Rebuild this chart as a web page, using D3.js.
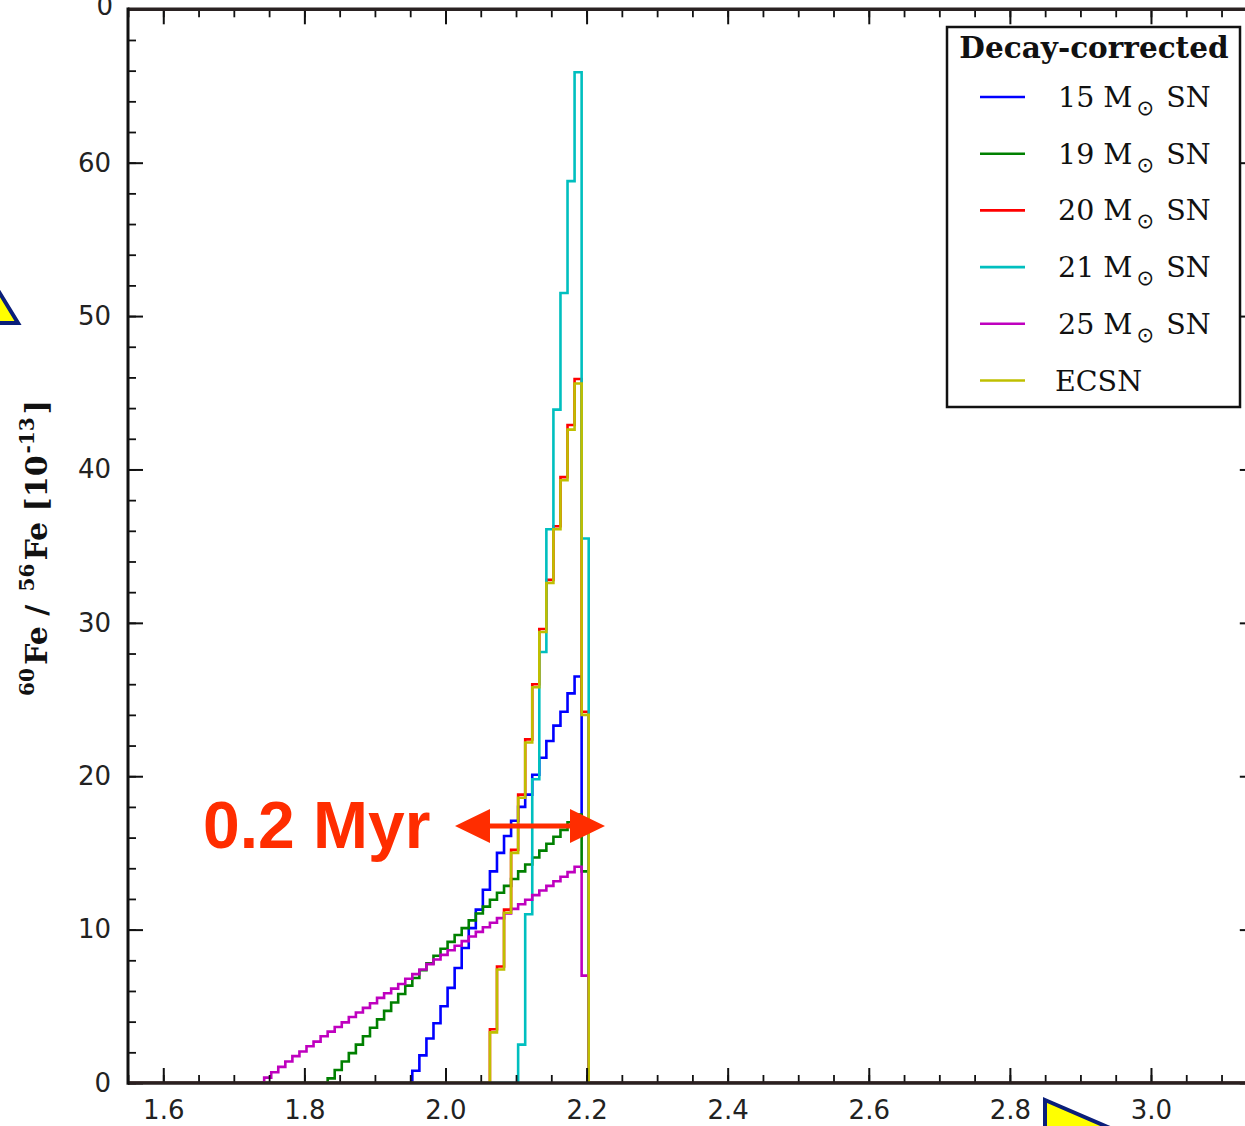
<!DOCTYPE html>
<html><head><meta charset="utf-8">
<script src="https://cdn.jsdelivr.net/npm/d3@7"></script>
<style>body{margin:0;background:#fff;} svg{display:block;}</style>
</head><body>
<svg id="chart" width="1245" height="1126"></svg>
<script>
// ---------------- data ----------------
const xMajorTicks = [1.6, 1.8, 2.0, 2.2, 2.4, 2.6, 2.8, 3.0];
const yMajorTicks = [0, 10, 20, 30, 40, 50, 60];
const binWidth = 0.01;
const seriesMass = ["15", "19", "20", "21", "25", "ECSN"];

const start15 = 1.953;
const values15 = [0.8, 1.8, 2.9, 3.9, 5.0, 6.2, 7.5, 8.8, 10.1, 11.3, 12.6, 13.8, 15.0, 16.1, 17.1, 18.0,
  18.8, 20.1, 21.2, 22.3, 23.3, 24.2, 25.4, 26.5, 17.2];
const start19 = 1.833;
const values19 = [0.3, 0.85, 1.4, 1.95, 2.5, 3.05, 3.6, 4.15, 4.7, 5.25, 5.8, 6.35, 6.85, 7.35, 7.8, 8.3,
  8.75, 9.2, 9.65, 10.1, 10.6, 11.05, 11.5, 11.95, 12.4, 12.85, 13.3, 13.8, 14.25, 14.7, 15.15, 15.6,
  16.05, 16.5, 17.0, 17.5, 13.8];
const start20 = 2.063;
const values20 = [3.5, 7.6, 11.3, 15.2, 18.8, 22.4, 26.0, 29.6, 32.8, 36.3, 39.5, 42.9, 45.9, 24.2];
const start21 = 2.103;
const values21 = [2.5, 11.0, 19.8, 28.1, 36.1, 43.9, 51.5, 58.8, 65.9, 35.5];
const start25 = 1.743;
const values25 = [0.35, 0.7, 1.05, 1.4, 1.75, 2.05, 2.4, 2.7, 3.05, 3.35, 3.65, 3.95, 4.3, 4.6, 4.9, 5.2,
  5.55, 5.85, 6.15, 6.45, 6.8, 7.1, 7.4, 7.75, 8.05, 8.35, 8.65, 8.95, 9.25, 9.55, 9.85, 10.15, 10.45,
  10.75, 11.05, 11.35, 11.65, 11.95, 12.25, 12.55, 12.85, 13.15, 13.45, 13.75, 14.1, 7.0];
const startECSN = 2.063;
const valuesECSN = [3.3, 7.4, 11.1, 15.0, 18.6, 22.2, 25.8, 29.4, 32.6, 36.1, 39.3, 42.6, 45.6, 24.0];

const seriesStarts = [start15, start19, start20, start21, start25, startECSN];
const seriesValues = [values15, values19, values20, values21, values25, valuesECSN];
const seriesColors = ["#0000ff", "#008000", "#ff0000", "#00bfbf", "#bf00bf", "#bfbf00"];

// ---------------- chart ----------------
const svg = d3.select("#chart");
const xDomain = [1.55, 3.15], yDomain = [0, 70];
const pLeft = 128, pRight = 1256.8, pBottom = 1083, pTop = 9.3;
const x = d3.scaleLinear().domain(xDomain).range([pLeft, pRight]);
const y = d3.scaleLinear().domain(yDomain).range([pBottom, pTop]);

svg.append("defs").append("clipPath").attr("id", "plotclip")
  .append("rect").attr("x", pLeft).attr("y", pTop).attr("width", pRight - pLeft).attr("height", pBottom - pTop);

// histogram step lines
const line = d3.line().x(d => x(d[0])).y(d => y(d[1])).curve(d3.curveStepAfter);
const plot = svg.append("g").attr("clip-path", "url(#plotclip)");
seriesValues.forEach((vals, i) => {
  const s = seriesStarts[i];
  const pts = [[xDomain[0], 0]];
  vals.forEach((v, k) => pts.push([s + k * binWidth, v]));
  pts.push([s + vals.length * binWidth, 0]);
  pts.push([xDomain[1], 0]);
  plot.append("path").attr("d", line(pts)).attr("fill", "none")
    .attr("stroke", seriesColors[i]).attr("stroke-width", 2.6).attr("stroke-linejoin", "miter");
});

// axes
const xMinor = d3.range(1.55, 3.151, 0.05).map(v => +v.toFixed(2));
const yMinor = d3.range(0, 70.01, 2);
const tickFont = "DejaVu Sans, sans-serif";

function styleAxis(g, width) {
  g.select(".domain").remove();
  g.selectAll(".tick line").attr("stroke", "#111").attr("stroke-width", width);
  g.selectAll("text").attr("font-family", tickFont).attr("font-size", 26).attr("fill", "#222");
}
// bottom
svg.append("g").attr("transform", `translate(0,${pBottom})`)
  .call(d3.axisBottom(x).tickValues(xMinor).tickSize(-8).tickFormat(""))
  .call(g => styleAxis(g, 1.8));
svg.append("g").attr("transform", `translate(0,${pBottom})`)
  .call(d3.axisBottom(x).tickValues(xMajorTicks).tickSize(-15).tickPadding(18).tickFormat(d3.format(".1f")))
  .call(g => styleAxis(g, 2));
// top
svg.append("g").attr("transform", `translate(0,${pTop})`)
  .call(d3.axisTop(x).tickValues(xMinor).tickSize(-8).tickFormat(""))
  .call(g => styleAxis(g, 1.8));
svg.append("g").attr("transform", `translate(0,${pTop})`)
  .call(d3.axisTop(x).tickValues(xMajorTicks).tickSize(-15).tickFormat(""))
  .call(g => styleAxis(g, 2));
// left
svg.append("g").attr("transform", `translate(${pLeft},0)`)
  .call(d3.axisLeft(y).tickValues(yMinor).tickSize(-8).tickFormat(""))
  .call(g => styleAxis(g, 1.8));
svg.append("g").attr("transform", `translate(${pLeft},0)`)
  .call(d3.axisLeft(y).tickValues(yMajorTicks).tickSize(-15).tickPadding(17).tickFormat(d3.format("d")))
  .call(g => styleAxis(g, 2));
// right
svg.append("g").attr("transform", `translate(${pRight - 2},0)`)
  .call(d3.axisRight(y).tickValues(yMinor).tickSize(-8).tickFormat(""))
  .call(g => styleAxis(g, 1.8));
svg.append("g").attr("transform", `translate(${pRight - 2},0)`)
  .call(d3.axisRight(y).tickValues(yMajorTicks).tickSize(-15).tickFormat(""))
  .call(g => styleAxis(g, 2));

// spines
svg.append("line").attr("x1", pLeft).attr("x2", pRight).attr("y1", pBottom).attr("y2", pBottom)
  .attr("stroke", "#2a2020").attr("stroke-width", 3.6);
svg.append("line").attr("x1", pLeft).attr("x2", pRight).attr("y1", pTop).attr("y2", pTop)
  .attr("stroke", "#2a2222").attr("stroke-width", 3.6);
svg.append("line").attr("x1", pLeft).attr("x2", pLeft).attr("y1", pTop - 1.8).attr("y2", pBottom + 1.8)
  .attr("stroke", "#111").attr("stroke-width", 3);

// partial tick label of the panel above (cut by the picture edge, as in the original)
svg.append("text").attr("x", 113).attr("y", 15).attr("text-anchor", "end")
  .attr("font-family", tickFont).attr("font-size", 26).attr("fill", "#222").text("0");

// y axis title
const yt = svg.append("text")
  .attr("transform", "translate(47,548) rotate(-90)")
  .attr("text-anchor", "middle")
  .attr("font-family", "DejaVu Serif, serif").attr("font-weight", "bold")
  .attr("font-size", 30).attr("fill", "#111");
yt.append("tspan").attr("font-size", 20).attr("dy", -13).text("60");
yt.append("tspan").attr("dy", 13).attr("dx", 3).text("Fe / ");
yt.append("tspan").attr("font-size", 20).attr("dy", -13).attr("dx", 3).text("56");
yt.append("tspan").attr("dy", 13).attr("dx", 3).text("Fe [10");
yt.append("tspan").attr("font-size", 20).attr("dy", -13).attr("dx", 2).text("-13");
yt.append("tspan").attr("dy", 13).attr("dx", 3).text("]");

// legend
const lg = svg.append("g");
lg.append("rect").attr("x", 947).attr("y", 27).attr("width", 293).attr("height", 380)
  .attr("fill", "#fff").attr("stroke", "#111").attr("stroke-width", 2.5);
lg.append("text").attr("x", 1094).attr("y", 58).attr("text-anchor", "middle")
  .attr("font-family", "DejaVu Serif, serif").attr("font-weight", "bold").attr("font-size", 29.5)
  .attr("fill", "#111").text("Decay-corrected");
seriesMass.forEach((m, i) => {
  const ry = 97 + i * 56.7;
  lg.append("line").attr("x1", 980).attr("x2", 1025).attr("y1", ry).attr("y2", ry)
    .attr("stroke", seriesColors[i]).attr("stroke-width", 2.6);
  const t = lg.append("text").attr("x", m === "ECSN" ? 1055 : 1058).attr("y", ry + 10)
    .attr("font-family", "DejaVu Serif, serif").attr("font-size", 28.5).attr("fill", "#111");
  if (m === "ECSN") { t.text("ECSN"); }
  else {
    t.append("tspan").text(m + " M");
    t.append("tspan").attr("font-family", "DejaVu Sans, sans-serif").attr("font-size", 21).attr("dy", 8).attr("dx", 4).text("\u2299");
    t.append("tspan").attr("dy", -8).attr("dx", 3).text(" SN");
  }
});

// annotation
const red = "#ff2d00";
svg.append("text").attr("x", 203).attr("y", 848).attr("font-family", "Liberation Sans, Arial, sans-serif")
  .attr("font-weight", "bold").attr("font-size", 66).attr("fill", red).text("0.2 Myr");
const ay = 826;
svg.append("path").attr("fill", red).attr("d",
  `M455,${ay} L490,${ay - 17} L490,${ay - 2.6} L570,${ay - 2.6} L570,${ay - 17} L605,${ay} L570,${ay + 17} L570,${ay + 2.6} L490,${ay + 2.6} L490,${ay + 17} Z`);

// slide decoration triangles
svg.append("path").attr("d", "M-40,228 L18,323 L-40,323 Z").attr("fill", "#ffff00")
  .attr("stroke", "#0b1f7a").attr("stroke-width", 4).attr("stroke-linejoin", "miter");
svg.append("path").attr("d", "M1045,1100 L1300,1210 L1045,1210 Z").attr("fill", "#ffff00")
  .attr("stroke", "#0b1f7a").attr("stroke-width", 4).attr("stroke-linejoin", "miter");
</script>
</body></html>
